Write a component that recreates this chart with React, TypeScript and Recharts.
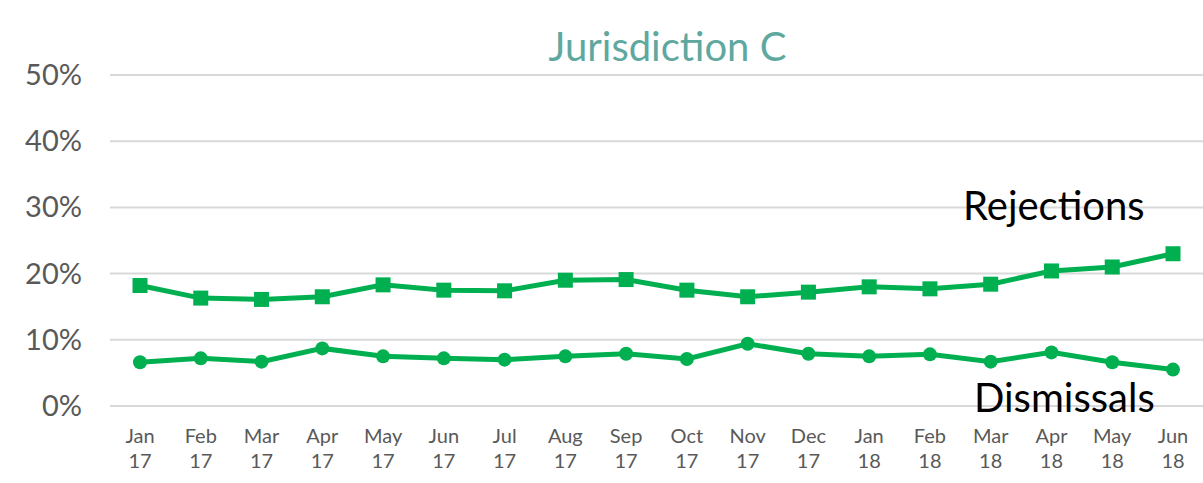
import { CartesianGrid, Line, LineChart, XAxis, YAxis } from "recharts";

const months = ["Jan", "Feb", "Mar", "Apr", "May", "Jun", "Jul", "Aug", "Sep", "Oct", "Nov", "Dec", "Jan", "Feb", "Mar", "Apr", "May", "Jun"];
const years = ["17", "17", "17", "17", "17", "17", "17", "17", "17", "17", "17", "17", "18", "18", "18", "18", "18", "18"];
const rejections = [18.2, 16.3, 16.1, 16.5, 18.3, 17.5, 17.4, 19.0, 19.1, 17.5, 16.5, 17.2, 18.0, 17.7, 18.4, 20.4, 21.0, 23.0];
const dismissals = [6.6, 7.2, 6.7, 8.7, 7.5, 7.2, 7.0, 7.5, 7.9, 7.1, 9.4, 7.9, 7.5, 7.8, 6.7, 8.1, 6.6, 5.5];
const yTicks = [0, 10, 20, 30, 40, 50];

const data = months.map((m, i) => ({
  key: `${m} ${years[i]}`,
  rejections: rejections[i],
  dismissals: dismissals[i],
}));

const GREEN = "#00b050";
const FONT = "Lato, 'Noto Sans', sans-serif";

function XTick(props: any) {
  const { x, y, payload } = props;
  const [m, yr] = String(payload.value).split(" ");
  return (
    <g>
      <text x={x} y={y + 29} textAnchor="middle" fontSize={20} fill="#595959" fontFamily={FONT}>
        {m}
      </text>
      <text x={x} y={y + 54} textAnchor="middle" fontSize={20} fill="#595959" fontFamily={FONT}>
        {yr}
      </text>
    </g>
  );
}

function YTick(props: any) {
  const { y, payload } = props;
  return (
    <text x={82} y={y + 10} textAnchor="end" fontSize={29} fill="#595959" fontFamily={FONT}>
      {payload.value}%
    </text>
  );
}

function Square(props: any) {
  const { cx, cy, index } = props;
  return <rect key={`sq-${index}`} x={cx - 7.5} y={cy - 7.5} width={15} height={15} fill={GREEN} />;
}

export default function App() {
  return (
    <div style={{ position: "fixed", left: 0, top: 0, width: 1203, height: 483, background: "#fff" }}>
      <div
        style={{
          position: "absolute",
          left: 0,
          width: 1335,
          top: 22,
          textAlign: "center",
          fontFamily: FONT,
          fontSize: 40,
          color: "#5fa8a0",
          lineHeight: "48px",
        }}
      >
        Jurisdiction C
      </div>
      <LineChart width={1203} height={483} data={data} margin={{ top: 75, right: 0, left: 0, bottom: 0 }}>
        <CartesianGrid vertical={false} stroke="#d9d9d9" strokeWidth={2} />
        <XAxis
          dataKey="key"
          axisLine={false}
          tickLine={false}
          interval={0}
          tick={<XTick />}
          height={77}
          padding={{ left: 30, right: 30 }}
        />
        <YAxis
          domain={[0, 50]}
          ticks={yTicks}
          axisLine={false}
          tickLine={false}
          width={110}
          tick={<YTick />}
          interval={0}
        />
        <Line
          dataKey="rejections"
          stroke={GREEN}
          strokeWidth={5}
          dot={<Square />}
          activeDot={false}
          isAnimationActive={false}
        />
        <Line
          dataKey="dismissals"
          stroke={GREEN}
          strokeWidth={5}
          dot={{ r: 7, fill: GREEN, stroke: "none" }}
          activeDot={false}
          isAnimationActive={false}
        />
      </LineChart>
      <div style={{ position: "absolute", left: 963, top: 188, fontFamily: FONT, fontSize: 40, color: "#000", lineHeight: "34px" }}>
        Rejections
      </div>
      <div style={{ position: "absolute", left: 974, top: 380, fontFamily: FONT, fontSize: 40, color: "#000", lineHeight: "34px" }}>
        Dismissals
      </div>
    </div>
  );
}
